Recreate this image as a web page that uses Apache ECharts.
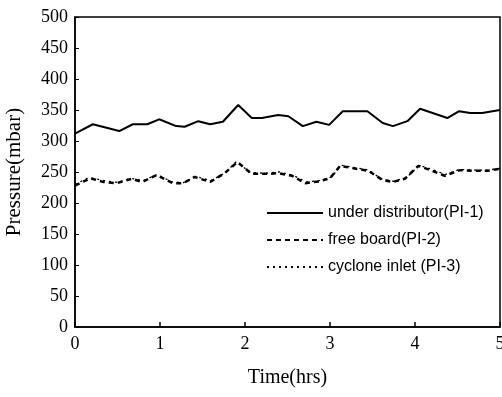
<!DOCTYPE html>
<html>
<head>
<meta charset="utf-8">
<script src="https://cdn.jsdelivr.net/npm/echarts@6/dist/echarts.min.js"></script>
<style>
  html, body { margin: 0; padding: 0; background: #fff; }
  #chart { width: 502px; height: 397px; }
</style>
</head>
<body>
<div id="chart"></div>
<script>
// PI-1, under distributor (solid)
const timePI1 = [0, 0.21, 0.52, 0.68, 0.85, 0.99, 1.19, 1.29, 1.45, 1.59, 1.74, 1.92, 2.08, 2.2, 2.39, 2.51, 2.68, 2.84, 2.99, 3.15, 3.44, 3.62, 3.74, 3.91, 4.06, 4.38, 4.52, 4.65, 4.79, 5.0];
const valuesPI1 = [312, 327, 316, 327, 327, 335, 324, 323, 332, 327, 331, 358, 337, 337, 342, 340, 324, 331, 326, 348, 348, 329, 324, 332, 352, 337, 348, 345, 345, 350];

// PI-2, free board (dashed)
const timePI2 = [0, 0.18, 0.33, 0.49, 0.67, 0.79, 0.96, 1.15, 1.27, 1.41, 1.59, 1.76, 1.91, 2.08, 2.26, 2.39, 2.55, 2.71, 2.88, 3.0, 3.12, 3.32, 3.45, 3.62, 3.74, 3.88, 4.04, 4.2, 4.35, 4.53, 4.68, 4.85, 5.0];
const valuesPI2 = [228, 240, 234, 232, 239, 234, 245, 232, 232, 242, 234, 248, 266, 247, 247, 248, 244, 232, 235, 240, 260, 255, 252, 237, 234, 239, 260, 252, 244, 253, 252, 252, 255];

// PI-3, cyclone inlet (dotted)
const timePI3 = [0, 0.16, 0.35, 0.5, 0.65, 0.8, 0.97, 1.14, 1.28, 1.42, 1.6, 1.77, 1.9, 2.06, 2.25, 2.4, 2.56, 2.72, 2.87, 3.02, 3.13, 3.3, 3.46, 3.6, 3.75, 3.9, 4.05, 4.22, 4.36, 4.52, 4.7, 4.86, 5.0];
const valuesPI3 = [230, 241, 236, 233, 240, 236, 246, 234, 233, 243, 236, 249, 267, 249, 248, 250, 245, 234, 236, 242, 261, 257, 253, 239, 235, 241, 261, 253, 246, 254, 253, 253, 256];

const seriesNames = ["under distributor(PI-1)", "free board(PI-2)", "cyclone inlet (PI-3)"];

const pairs = (t, v) => t.map((x, i) => [x, v[i]]);

const chart = echarts.init(document.getElementById("chart"));

const serif = "Liberation Serif";
const sans = "Liberation Sans";

chart.setOption({
  animation: false,
  backgroundColor: "#fff",
  grid: {
    left: 75,
    right: 2,
    top: 17,
    bottom: 70,
    outerBoundsMode: "none",
    show: true,
    borderColor: "#000",
    borderWidth: 1.5,
  },
  legend: {
    orient: "vertical",
    left: 266,
    top: 205,
    padding: 0,
    itemWidth: 56,
    itemHeight: 14,
    itemGap: 11,
    itemStyle: { opacity: 0 },
    data: seriesNames,
    textStyle: { fontFamily: sans, fontSize: 16, color: "#000" },
  },
  xAxis: {
    type: "value",
    min: 0,
    max: 5,
    interval: 1,
    name: "Time(hrs)",
    nameLocation: "middle",
    nameGap: 41,
    nameTextStyle: { fontFamily: serif, fontSize: 20, color: "#000" },
    axisLine: { lineStyle: { color: "#000", width: 1.5 } },
    axisTick: { inside: true, length: 5, lineStyle: { color: "#000", width: 1.5 } },
    axisLabel: { fontFamily: serif, fontSize: 18, color: "#000", margin: 8 },
    splitLine: { show: false },
  },
  yAxis: {
    type: "value",
    min: 0,
    max: 500,
    interval: 50,
    name: "Pressure(mbar)",
    nameLocation: "middle",
    nameGap: 50,
    nameTextStyle: { fontFamily: serif, fontSize: 21, color: "#000" },
    axisLine: { show: true, lineStyle: { color: "#000", width: 1.5 } },
    axisTick: { inside: true, length: 4, lineStyle: { color: "#000", width: 1 } },
    axisLabel: { fontFamily: serif, fontSize: 18, color: "#000", margin: 7 },
    splitLine: { show: false },
  },
  series: [
    {
      name: seriesNames[0],
      type: "line",
      data: pairs(timePI1, valuesPI1),
      symbol: "none",
      lineStyle: { color: "#000", width: 2 },
      itemStyle: { color: "#000" },
    },
    {
      name: seriesNames[1],
      type: "line",
      data: pairs(timePI2, valuesPI2),
      symbol: "none",
      lineStyle: { color: "#000", width: 2.5, type: [5, 4] },
      itemStyle: { color: "#000" },
    },
    {
      name: seriesNames[2],
      type: "line",
      data: pairs(timePI3, valuesPI3),
      symbol: "none",
      lineStyle: { color: "#000", width: 1.3, type: [2, 4] },
      itemStyle: { color: "#000" },
    },
  ],
});
</script>
</body>
</html>
